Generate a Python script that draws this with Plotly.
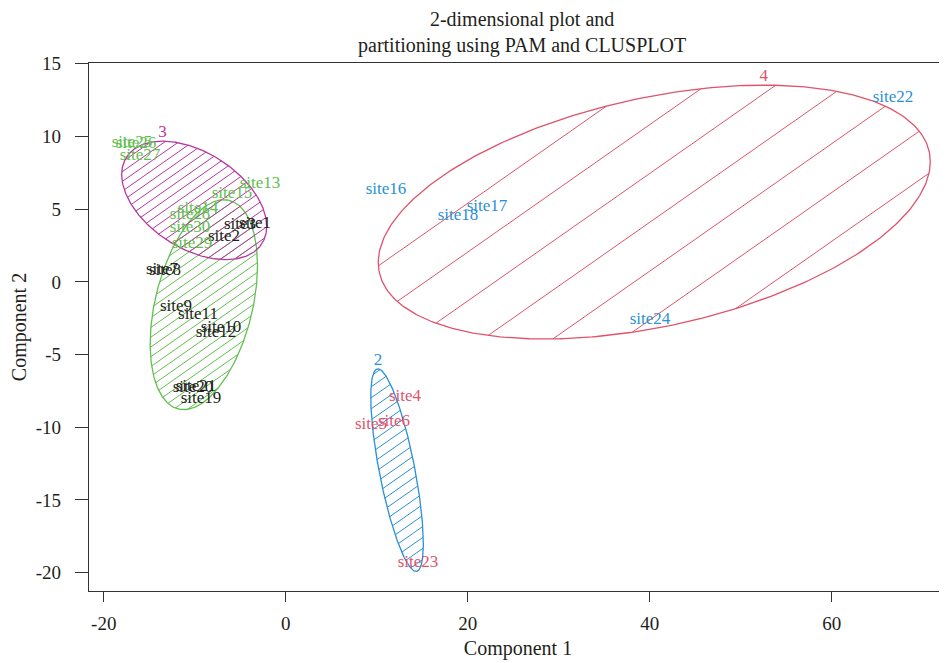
import numpy as np
import plotly.graph_objects as go

# ---------------- data ----------------
site_names = [f"site{i}" for i in range(1, 31)]
site_x = [-3.37, -6.78, -5.02, 13.11, 9.37, 11.90, -13.59, -13.26, -12.06, -7.11,
          -9.64, -7.66, -2.82, -9.64, -5.90, 11.02, 22.12, 18.93, -9.31, -10.19,
          -9.86, 66.73, 14.54, 40.03, -16.89, -16.45, -16.01, -10.52, -10.30, -10.52]
site_y = [3.99, 3.10, 3.93, -7.88, -9.82, -9.62, 0.83, 0.76, -1.71, -3.16,
          -2.26, -3.51, 6.75, 5.03, 6.06, 6.33, 5.16, 4.55, -8.04, -7.28,
          -7.21, 12.66, -19.31, -2.61, 9.56, 9.50, 8.67, 4.61, 2.62, 3.72]
# text colour group of each site label
site_group = ["k", "k", "k", "r", "r", "r", "k", "k", "k", "k",
              "k", "k", "g", "g", "g", "b", "b", "b", "k", "k",
              "k", "b", "r", "b", "g", "g", "g", "g", "g", "g"]

# cluster ellipses (centre and shape matrix)
cluster_ids = ["1", "2", "3", "4"]
ellipse_cx = [-9.0, 12.23, -10.06, 40.5]
ellipse_cy = [-1.57, -12.95, 5.6, 4.8]
ellipse_sxx = [34.8, 8.35, 63.5, 920.0]
ellipse_sxy = [15.9, -14.57, -14.2, 105.0]
ellipse_syy = [52.1, 48.5, 16.6, 76.2]
cluster_label_shown = [False, True, True, True]

x_ticks = [-20, 0, 20, 40, 60]
x_tick_labels = ["-20", "0", "20", "40", "60"]
y_ticks = [-20, -15, -10, -5, 0, 5, 10, 15]
y_tick_labels = ["-20", "-15", "-10", "-5", "0", "5", "10", "15"]

# ---------------- style ----------------
OFF = 8  # page body margin
W, H = 947 - OFF, 663 - OFF
ML, MR, MT, MB = 89 - OFF, 0, 63 - OFF, 663 - 591
XR = [-21.62, 72.67]
YR = [-21.26, 15.05]
pw, ph = W - ML - MR, H - MT - MB
sx = pw / (XR[1] - XR[0])
sy = ph / (YR[1] - YR[0])

txt_colors = {"k": "#231f20", "r": "#df536b", "g": "#61c04f", "b": "#2a90d8"}
ell_colors = ["#61c04f", "#2a90d8", "#b8379f", "#df536b"]
hatch_spacing = [8.0, 9.0, 8.0, 40.0]   # pixels, perpendicular
hatch_angle = np.deg2rad(35)
FONT = "Liberation Serif, Times New Roman, serif"
TXT = "#231f20"

fig = go.Figure()

for i in range(len(cluster_ids)):
    cx, cy = ellipse_cx[i], ellipse_cy[i]
    S = np.array([[ellipse_sxx[i], ellipse_sxy[i]], [ellipse_sxy[i], ellipse_syy[i]]])
    L = np.linalg.cholesky(S)
    t = np.linspace(0, 2 * np.pi, 361)
    pts = L @ np.vstack([np.cos(t), np.sin(t)])
    ex, ey = cx + pts[0], cy + pts[1]

    # hatching in pixel space
    D = np.diag([sx, sy])
    Sp = D @ S @ D
    M = np.linalg.inv(Sp)
    d = np.array([np.cos(hatch_angle), np.sin(hatch_angle)])
    n = np.array([-np.sin(hatch_angle), np.cos(hatch_angle)])
    ext = np.sqrt(n @ Sp @ n)
    cpx = np.array([cx * sx, cy * sy])
    s = hatch_spacing[i]
    base = cpx @ n
    kmin = np.ceil((base - ext) / s) * s - base
    ks = np.arange(kmin, ext, s)
    hx, hy = [], []
    a = d @ M @ d
    for k in ks:
        b = 2 * k * (d @ M @ n)
        c0 = k * k * (n @ M @ n) - 1
        disc = b * b - 4 * a * c0
        if disc <= 0:
            continue
        r = np.sqrt(disc)
        for tt in ((-b - r) / (2 * a), (-b + r) / (2 * a)):
            p = cpx + k * n + tt * d
            hx.append(p[0] / sx)
            hy.append(p[1] / sy)
        hx.append(None)
        hy.append(None)
    fig.add_trace(go.Scatter(x=hx, y=hy, mode="lines",
                             line=dict(color=ell_colors[i], width=1),
                             hoverinfo="skip", showlegend=False))
    fig.add_trace(go.Scatter(x=ex, y=ey, mode="lines",
                             line=dict(color=ell_colors[i], width=1.3),
                             hoverinfo="skip", showlegend=False))
    if cluster_label_shown[i]:
        topx = cx + ellipse_sxy[i] / np.sqrt(ellipse_syy[i])
        topy = cy + np.sqrt(ellipse_syy[i])
        fig.add_trace(go.Scatter(x=[topx], y=[topy], mode="text",
                                 text=[cluster_ids[i]], textposition="top center",
                                 textfont=dict(family=FONT, size=17, color=ell_colors[i]),
                                 hoverinfo="skip", showlegend=False))

fig.add_trace(go.Scatter(
    x=site_x, y=site_y, mode="text", text=site_names, textposition="middle center",
    textfont=dict(family=FONT, size=17, color=[txt_colors[g] for g in site_group]),
    hoverinfo="text", showlegend=False))

axis_common = dict(showgrid=False, zeroline=False, showline=True, linecolor="#333333",
                   linewidth=1.3, ticks="outside", tickcolor="#333333", tickwidth=1.3,
                   automargin=False,
                   tickfont=dict(family=FONT, size=19, color=TXT))

fig.update_layout(
    width=W, height=H,
    margin=dict(l=ML, r=MR, t=MT, b=MB, autoexpand=False),
    paper_bgcolor="white", plot_bgcolor="white",
    xaxis=dict(range=XR, tickvals=x_ticks, ticktext=x_tick_labels, ticklen=10, mirror=True,
               ticklabelstandoff=5,
               title=dict(text="Component 1", standoff=8,
                          font=dict(family=FONT, size=20, color=TXT)),
               **axis_common),
    yaxis=dict(range=YR, tickvals=y_ticks, ticktext=y_tick_labels, ticklen=13, mirror=False,
               ticklabelstandoff=10,
               title=dict(text="Component 2", standoff=6,
                          font=dict(family=FONT, size=20, color=TXT)),
               **axis_common),
    annotations=[dict(text="2-dimensional plot and<br>partitioning using PAM and CLUSPLOT",
                      xref="paper", yref="paper", x=(522 - 89) / pw, y=1,
                      xanchor="center", yanchor="bottom", yshift=4, showarrow=False,
                      font=dict(family=FONT, size=20, color=TXT))],
)

fig.write_html("out.html")
